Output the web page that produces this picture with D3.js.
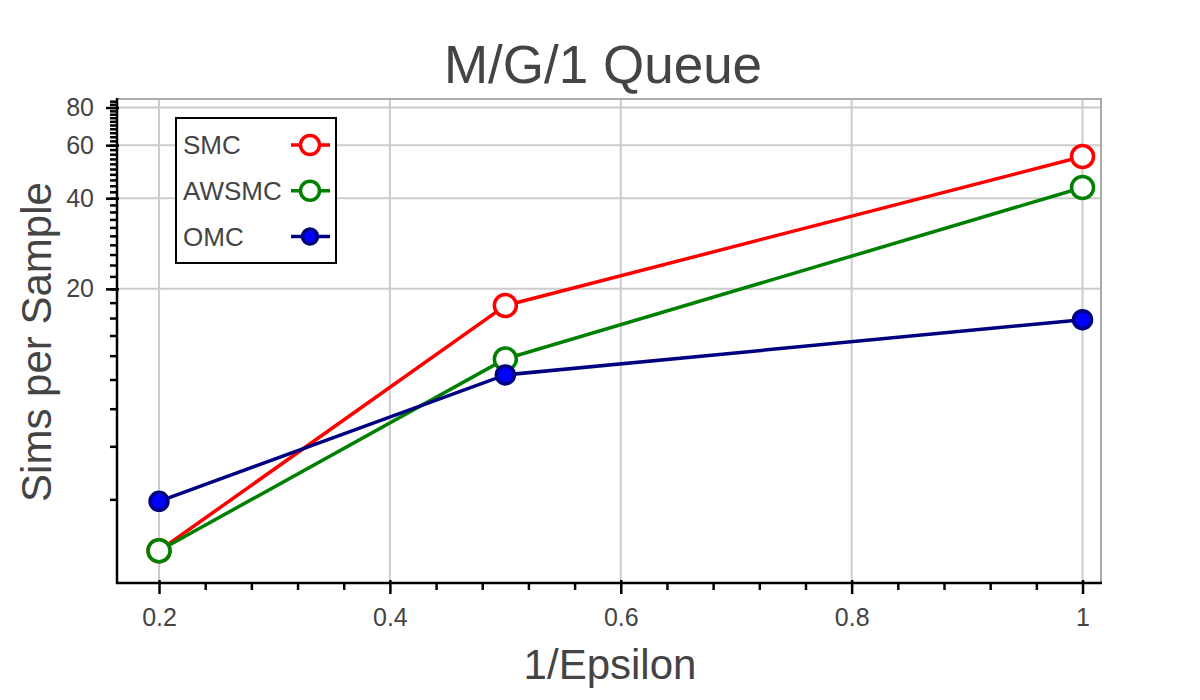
<!DOCTYPE html>
<html>
<head>
<meta charset="utf-8">
<script src="https://cdn.jsdelivr.net/npm/d3@7"></script>
<style>
  body { margin: 0; background: #fff; }
  text { font-family: "Liberation Sans", Arial, Helvetica, sans-serif; fill: #444; }
</style>
</head>
<body>
<div id="plot"></div>
<script>
// values
var invEps = [0.2, 0.5, 1.0];
var smc = [2.70, 17.6, 55.0];
var awsmc = [2.70, 11.7, 43.4];
var omc = [3.94, 10.36, 15.8];

var xMajor = [0.2, 0.4, 0.6, 0.8, 1];
var xMinor = [0.24, 0.28, 0.32, 0.36, 0.44, 0.48, 0.52, 0.56, 0.64, 0.68, 0.72, 0.76, 0.84, 0.88, 0.92, 0.96];
var yMajor = [20, 40, 60, 80];
var yMinor = d3.range(4, 86, 2);

var series = [
  {name: "SMC", values: smc, line: "#ff0000", stroke: "#ff0000", fill: "#ffffff", r: 11},
  {name: "AWSMC", values: awsmc, line: "#008000", stroke: "#008000", fill: "#ffffff", r: 11},
  {name: "OMC", values: omc, line: "#000080", stroke: "#000080", fill: "#0000ff", r: 9}
];

var W = 1200, H = 700;
var frame = {left: 117, right: 1101, top: 99, bottom: 583};

var svg = d3.select("#plot").append("svg")
  .attr("width", W)
  .attr("height", H);

var x = d3.scaleLinear().domain([0.1636, 1.016]).range([frame.left, frame.right]);
var y = d3.scaleLog().domain([2.11, 85.4]).range([frame.bottom, frame.top]);

// grid
svg.append("g").selectAll("line")
  .data(xMajor).join("line")
  .attr("x1", d => x(d)).attr("x2", d => x(d))
  .attr("y1", frame.top).attr("y2", frame.bottom)
  .style("stroke", "#cccccc").style("stroke-width", 2);

svg.append("g").selectAll("line")
  .data(yMajor).join("line")
  .attr("x1", frame.left).attr("x2", frame.right)
  .attr("y1", d => y(d)).attr("y2", d => y(d))
  .style("stroke", "#cccccc").style("stroke-width", 2);

// frame outline
svg.append("rect")
  .attr("x", frame.left).attr("y", frame.top)
  .attr("width", frame.right - frame.left).attr("height", frame.bottom - frame.top)
  .style("fill", "none").style("stroke", "#aaaaaa").style("stroke-width", 2);

// series lines + markers
var line = d3.line()
  .x((d, i) => x(invEps[i]))
  .y(d => y(d));

series.forEach(function(s) {
  svg.append("path")
    .datum(s.values)
    .attr("d", line)
    .style("fill", "none")
    .style("stroke", s.line)
    .style("stroke-width", 3.5);
});

series.forEach(function(s) {
  svg.append("g").selectAll("circle")
    .data(s.values).join("circle")
    .attr("cx", (d, i) => x(invEps[i]))
    .attr("cy", d => y(d))
    .attr("r", s.r)
    .style("fill", s.fill)
    .style("stroke", s.stroke)
    .style("stroke-width", 3.5);
});

// x axis
var xMinorG = svg.append("g").attr("transform", `translate(0,${frame.bottom})`)
  .call(d3.axisBottom(x).tickValues(xMinor).tickSize(7).tickFormat(""));
var xMajorG = svg.append("g").attr("transform", `translate(0,${frame.bottom})`)
  .call(d3.axisBottom(x).tickValues(xMajor).tickSize(11).tickPadding(14)
    .tickFormat(d => d === 1 ? "1" : d3.format(".1f")(d)));
[xMinorG, xMajorG].forEach(function(g) {
  g.selectAll(".domain").remove();
  g.selectAll(".tick line").style("stroke", "#000").style("stroke-width", 2.5);
});
xMajorG.selectAll(".tick line").attr("y1", -3);
xMajorG.selectAll(".tick text").style("font-size", "25px").style("fill", "#444");
xMajorG.append("line")
  .attr("x1", frame.left - 1).attr("x2", frame.right + 1)
  .style("stroke", "#000").style("stroke-width", 2.5);

// y axis
var yMinorG = svg.append("g").attr("transform", `translate(${frame.left},0)`)
  .call(d3.axisLeft(y).tickValues(yMinor).tickSize(7).tickFormat(""));
var yMajorG = svg.append("g").attr("transform", `translate(${frame.left},0)`)
  .call(d3.axisLeft(y).tickValues(yMajor).tickSize(11).tickPadding(12).tickFormat(d3.format("d")));
[yMinorG, yMajorG].forEach(function(g) {
  g.selectAll(".domain").remove();
  g.selectAll(".tick line").style("stroke", "#000").style("stroke-width", 2.5);
});
yMajorG.selectAll(".tick line").attr("x1", 2);
yMajorG.selectAll(".tick text").style("font-size", "25px").style("fill", "#444");
yMajorG.append("line")
  .attr("y1", frame.top - 1).attr("y2", frame.bottom + 1)
  .style("stroke", "#000").style("stroke-width", 2.5);

// title and labels
svg.append("text")
  .attr("x", 603).attr("y", 83)
  .attr("text-anchor", "middle")
  .style("font-size", "53px")
  .text("M/G/1 Queue");

svg.append("text")
  .attr("x", 610).attr("y", 679)
  .attr("text-anchor", "middle")
  .style("font-size", "42px")
  .text("1/Epsilon");

svg.append("text")
  .attr("transform", "translate(51,342) rotate(-90)")
  .attr("text-anchor", "middle")
  .style("font-size", "42px")
  .text("Sims per Sample");

// legend
var legend = svg.append("g");
legend.append("rect")
  .attr("x", 176).attr("y", 118)
  .attr("width", 160).attr("height", 145)
  .style("fill", "#fff").style("stroke", "#000").style("stroke-width", 2);

var legendRow = d3.scalePoint().domain(series.map(s => s.name)).range([145, 236.5]);

var item = legend.selectAll("g.item")
  .data(series).join("g")
  .attr("class", "item")
  .attr("transform", d => `translate(0,${legendRow(d.name)})`);

item.append("text")
  .attr("x", 183).attr("y", 9)
  .style("font-size", "26px")
  .text(d => d.name);

item.append("line")
  .attr("x1", 291).attr("x2", 330)
  .style("stroke", d => d.line).style("stroke-width", 3.5);

item.append("circle")
  .attr("cx", 310).attr("r", d => d.r - 1.5)
  .style("fill", d => d.fill)
  .style("stroke", d => d.stroke)
  .style("stroke-width", 3.5);
</script>
</body>
</html>
